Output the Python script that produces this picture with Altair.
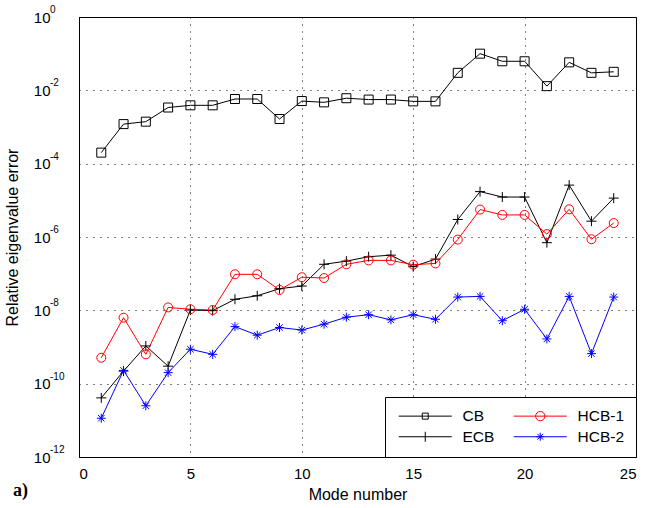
import altair as alt
import pandas as pd

# Mode numbers and relative eigenvalue errors for each reduction method
modes = list(range(1, 25))
cb = [2.0e-4, 1.2e-3, 1.4e-3, 3.4e-3, 3.9e-3, 3.9e-3, 5.8e-3, 5.8e-3, 1.65e-3, 5.1e-3, 4.7e-3, 6.1e-3,
      5.6e-3, 5.6e-3, 5.0e-3, 5.0e-3, 3.0e-2, 1.0e-1, 6.2e-2, 6.2e-2, 1.3e-2, 5.8e-2, 3.0e-2, 3.2e-2]
ecb = [4.1e-11, 2.2e-10, 1.07e-9, 3.0e-10, 1.02e-8, 9.8e-9, 2.0e-8, 2.5e-8, 3.9e-8, 4.6e-8, 1.8e-7, 2.2e-7,
       2.9e-7, 3.2e-7, 1.55e-7, 2.5e-7, 3.0e-6, 1.73e-5, 1.23e-5, 1.23e-5, 7.0e-7, 2.6e-5, 2.7e-6, 1.15e-5]
hcb1 = [5.1e-10, 6.3e-9, 6.3e-10, 1.2e-8, 1.07e-8, 1.02e-8, 9.6e-8, 9.6e-8, 3.6e-8, 8.0e-8, 7.6e-8, 1.8e-7,
        2.3e-7, 2.3e-7, 1.76e-7, 1.9e-7, 8.5e-7, 5.6e-6, 4.0e-6, 4.0e-6, 1.2e-6, 5.7e-6, 8.7e-7, 2.4e-6]
hcb2 = [1.14e-11, 2.3e-10, 2.5e-11, 2.0e-10, 8.7e-10, 6.3e-10, 3.6e-9, 2.1e-9, 3.4e-9, 2.9e-9, 4.2e-9, 6.5e-9,
        7.6e-9, 5.5e-9, 7.6e-9, 5.7e-9, 2.3e-8, 2.4e-8, 5.2e-9, 1.07e-8, 1.66e-9, 2.4e-8, 6.6e-10, 2.3e-8]

series_names = ["CB", "ECB", "HCB-1", "HCB-2"]
series_colors = ["#000000", "#000000", "#ff0000", "#0000ff"]

# Marker outlines (unit radius = 5 px at size 100)
marker_paths = [
    "M-0.9,-0.9H0.9V0.9H-0.9Z",
    "M-1,0H1M0,-1V1",
    "M-0.9,0A0.9,0.9,0,1,1,0.9,0A0.9,0.9,0,1,1,-0.9,0Z",
    "M-0.9,0H0.9M0,-0.9V0.9M-0.64,-0.64L0.64,0.64M-0.64,0.64L0.64,-0.64",
]
# Legend keys: a short line segment with the marker in its middle
legend_paths = [
    "M-1,0H9.6M3.7,-0.6H4.9V0.6H3.7Z",
    "M-1,0H9.6M4.3,-1V1",
    "M-1,0H9.6M3.37,0A0.93,0.93,0,1,1,5.23,0A0.93,0.93,0,1,1,3.37,0",
    "M-1,0H9.6M3.5,0H5.1M4.3,-0.8V0.8M3.73,-0.57L4.87,0.57M3.73,0.57L4.87,-0.57",
]

# Decade ticks on the log axis: base "10" as the axis label, exponent drawn raised
y_exponents = [0, -2, -4, -6, -8, -10, -12]
y_ticks = [10.0 ** e for e in y_exponents]
tick_df = pd.DataFrame({"error": y_ticks, "exp": [str(e) for e in y_exponents]})

rows = []
for name, vals in zip(series_names, [cb, ecb, hcb1, hcb2]):
    for m, v in zip(modes, vals):
        rows.append({"mode": m, "error": v, "series": name, "key": name})
df = pd.DataFrame(rows)

FONT = "Liberation Sans"

x_enc = alt.X(
    "mode:Q",
    scale=alt.Scale(domain=[0, 25], nice=False),
    axis=alt.Axis(values=[0, 5, 10, 15, 20, 25], title="Mode number"),
)
y_scale = alt.Scale(type="log", domain=[1e-12, 1], nice=False)
y_enc = alt.Y(
    "error:Q",
    scale=y_scale,
    axis=alt.Axis(values=y_ticks, labelExpr="'10'", title="Relative eigenvalue error"),
)

color_series = alt.Color(
    "series:N", scale=alt.Scale(domain=series_names, range=series_colors), legend=None
)

base = alt.Chart(df)

lines = base.mark_line(strokeWidth=1).encode(
    x=x_enc, y=y_enc, color=color_series, detail="series:N"
)

points = base.mark_point(filled=False, strokeWidth=1, size=100, opacity=1).encode(
    x=x_enc,
    y=y_enc,
    color=color_series,
    shape=alt.Shape(
        "series:N", scale=alt.Scale(domain=series_names, range=marker_paths), legend=None
    ),
)

legend_layer = base.transform_filter("datum.mode < 0").mark_point(
    filled=False, strokeWidth=1, size=100, opacity=1
).encode(
    x=x_enc,
    y=y_enc,
    color=alt.Color(
        "key:N",
        scale=alt.Scale(domain=series_names, range=series_colors),
        legend=alt.Legend(
            title=None,
            orient="bottom-right",
            offset=0,
            columns=2,
            padding=11,
            columnPadding=16,
            rowPadding=4,
            labelFont=FONT,
            labelFontSize=15.5,
            labelColor="black",
            labelOffset=51,
            symbolSize=100,
            symbolStrokeWidth=1,
            fillColor="white",
            strokeColor="black",
            cornerRadius=0,
        ),
    ),
    shape=alt.Shape("key:N", scale=alt.Scale(domain=series_names, range=legend_paths)),
)

exponents = alt.Chart(tick_df).mark_text(
    font=FONT, fontSize=10, align="left", baseline="middle", dy=-7, color="black"
).encode(x=alt.value(-29), y=alt.Y("error:Q", scale=y_scale), text="exp:N")

panel_label = alt.Chart(pd.DataFrame({"t": ["a)"]})).mark_text(
    font="Liberation Serif", fontSize=18, fontWeight="bold", align="left", baseline="alphabetic",
    color="black",
).encode(x=alt.value(-66), y=alt.value(479), text="t:N")

chart = (
    alt.layer(lines, points, legend_layer, exponents, panel_label)
    .resolve_scale(color="independent", shape="independent")
    .properties(
        width=557,
        height=440,
        autosize=alt.AutoSizeParams(type="none"),
        padding={"left": 79, "top": 17, "right": 12, "bottom": 51},
        background="white",
    )
    .configure_view(stroke="black", strokeWidth=1)
    .configure_axis(
        labelFont=FONT,
        labelFontSize=15,
        labelColor="black",
        titleFont=FONT,
        titleFontSize=16,
        titleFontWeight="normal",
        titleColor="black",
        grid=True,
        gridColor="black",
        gridDash=[1, 6],
        gridOpacity=1,
        gridWidth=1,
        domainColor="black",
        ticks=False,
    )
    .configure_axisX(labelPadding=9, titlePadding=5)
    .configure_axisY(labelPadding=29, titlePadding=12, titleX=-59)
)

chart.save("out.html", embed_options={"renderer": "svg", "actions": False})
